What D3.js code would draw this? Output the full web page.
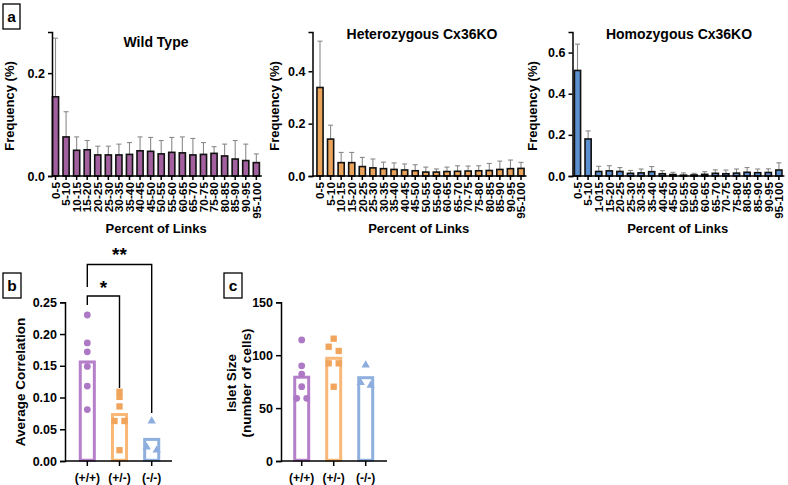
<!DOCTYPE html>
<html><head><meta charset="utf-8">
<script src="https://cdn.jsdelivr.net/npm/d3@7"></script>
<style>
body{margin:0;background:#fff;}
svg{display:block;font-family:"Liberation Sans",Arial,Helvetica,sans-serif;font-weight:bold;}
</style></head><body>
<svg id="c" width="788" height="485"></svg>
<script>
// ---------- DATA ----------
const bins = ["0-5","5-10","10-15","15-20","20-25","25-30","30-35","35-40","40-45","45-50","50-55","55-60","60-65","65-70","70-75","75-80","80-85","85-90","90-95","95-100"];
const binsHomo = ["0-5","5-10","1-015","15-20","20-25","25-30","30-35","35-40","40-45","45-50","50-55","55-60","60-65","65-70","70-75","75-80","80-85","85-90","90-95","95-100"];
const wtMean = [0.154,0.076,0.050,0.051,0.041,0.041,0.041,0.042,0.049,0.048,0.043,0.046,0.045,0.041,0.042,0.044,0.039,0.033,0.030,0.026];
const wtUpper = [0.268,0.125,0.076,0.069,0.058,0.058,0.062,0.065,0.076,0.075,0.069,0.075,0.076,0.073,0.065,0.057,0.062,0.069,0.062,0.043];
const hetMean = [0.338,0.141,0.051,0.051,0.036,0.031,0.028,0.025,0.023,0.020,0.015,0.015,0.017,0.018,0.019,0.020,0.021,0.025,0.028,0.029];
const hetUpper = [0.515,0.194,0.090,0.090,0.071,0.065,0.053,0.050,0.046,0.043,0.034,0.027,0.034,0.039,0.038,0.039,0.048,0.057,0.061,0.052];
const homMean = [0.513,0.180,0.022,0.025,0.022,0.013,0.015,0.021,0.011,0.007,0.004,0.005,0.008,0.013,0.011,0.014,0.018,0.016,0.017,0.029];
const homUpper = [0.641,0.219,0.047,0.050,0.041,0.027,0.034,0.046,0.026,0.018,0.015,0.013,0.021,0.030,0.029,0.034,0.041,0.034,0.035,0.064];
const wtTicks = [0, 0.2];
const hetTicks = [0, 0.2, 0.4];
const homTicks = [0, 0.2, 0.4, 0.6];

const groups = ["(+/+)","(+/-)","(-/-)"];
const corrWT = [0.230,0.186,0.172,0.149,0.118,0.081];
const corrHet = [0.109,0.101,0.086,0.063,0.063,0.017];
const corrHom = [0.063,0.017,0.022];
const corrTicks = [0,0.05,0.10,0.15,0.20,0.25];

const sizeWT = [114.4,90,82.2,70.2,59.2,59.2];
const sizeHet = [115.6,108,104,92.3,92.3,70.2];
const sizeHom = [90.7,71.5,74];
const sizeTicks = [0,50,100,150];

// ---------- DRAW ----------
const svg = d3.select("#c");
const FONT = '"Liberation Sans",Arial,Helvetica,sans-serif';

function panelLabel(x,y,w,h,t){
  svg.append("rect").attr("x",x).attr("y",y).attr("width",w).attr("height",h)
    .attr("fill","#fff").attr("stroke","#000").attr("stroke-width",1.3);
  svg.append("text").attr("x",x+w/2).attr("y",y+h/2+5.5).attr("text-anchor","middle")
    .attr("font-size",15.5).text(t);
}
panelLabel(3,4,17,25,"a");
panelLabel(3,273,18,25,"b");
panelLabel(224,273,18,25,"c");

function styleAxis(g){
  g.selectAll("path,line").attr("stroke","#000").attr("stroke-width",1.5);
  g.selectAll("text").attr("font-family",FONT).attr("font-weight","bold").attr("fill","#000");
}

function histPanel(o){
  const {axisX, firstC, step, top, yMax, cats, mean, upper, ticks, fill, title, titleX, titleY, ylabX} = o;
  const y0 = 176;
  const y = d3.scaleLinear().domain([0,yMax]).range([y0, top]);
  const x = d3.scaleBand().domain(cats).range([firstC-step/2, firstC-step/2+cats.length*step])
    .paddingInner(0.42).paddingOuter(0.21);
  const g = svg.append("g");
  cats.forEach((c,i)=>{
    const cx = x(c)+x.bandwidth()/2;
    g.append("line").attr("x1",cx).attr("x2",cx).attr("y1",y(mean[i])).attr("y2",y(upper[i]))
      .attr("stroke","#8a8a8a").attr("stroke-width",1.1);
    g.append("line").attr("x1",cx-2.5).attr("x2",cx+2.5).attr("y1",y(upper[i])).attr("y2",y(upper[i]))
      .attr("stroke","#8a8a8a").attr("stroke-width",1.1);
  });
  g.selectAll("rect.bar").data(cats).enter().append("rect")
    .attr("x",c=>x(c)).attr("width",x.bandwidth())
    .attr("y",(c,i)=>y(mean[i])).attr("height",(c,i)=>y0-y(mean[i]))
    .attr("fill",fill).attr("stroke","#111").attr("stroke-width",1.6);
  const ya = g.append("g").attr("transform",`translate(${axisX},0)`)
    .call(d3.axisLeft(y).tickValues(ticks).tickFormat(d3.format(".1f")).tickSizeOuter(0).tickSize(4).tickPadding(3));
  ya.selectAll("text").attr("font-size",12.5);
  styleAxis(ya);
  const xa = g.append("g").attr("transform",`translate(0,${y0})`)
    .call(d3.axisBottom(x).tickSize(4).tickSizeOuter(0));
  xa.select(".domain").remove();
  xa.selectAll("text").attr("font-size",11.8).attr("text-anchor","end")
    .attr("transform","rotate(-90)").attr("x",-6).attr("y",0).attr("dy","0.36em");
  styleAxis(xa);
  g.append("line").attr("x1",axisX).attr("x2",firstC+(cats.length-1)*step+5.5)
    .attr("y1",y0).attr("y2",y0).attr("stroke","#000").attr("stroke-width",1.5);
  g.append("text").attr("x",titleX).attr("y",titleY).attr("text-anchor","middle")
    .attr("font-size",14).text(title);
  const midX = (axisX + firstC+(cats.length-1)*step)/2 + 2;
  g.append("text").attr("x",midX).attr("y",233).attr("text-anchor","middle")
    .attr("font-size",13).text("Percent of Links");
  g.append("text").attr("transform",`translate(${ylabX},${(y0+top)/2+2}) rotate(-90)`)
    .attr("text-anchor","middle").attr("font-size",13).text("Frequency (%)");
}

histPanel({axisX:52, firstC:55.5, step:10.57, top:32, yMax:0.28, cats:bins, mean:wtMean, upper:wtUpper,
  ticks:wtTicks, fill:"#a2619e", title:"Wild Type", titleX:156, titleY:47, ylabX:14});
histPanel({axisX:312.5, firstC:320, step:10.58, top:32, yMax:0.55, cats:bins, mean:hetMean, upper:hetUpper,
  ticks:hetTicks, fill:"#eaa35b", title:"Heterozygous Cx36KO", titleX:422, titleY:39, ylabX:279});
histPanel({axisX:572.5, firstC:577.5, step:10.6, top:32, yMax:0.70, cats:binsHomo, mean:homMean, upper:homUpper,
  ticks:homTicks, fill:"#5c8fcf", title:"Homozygous Cx36KO", titleX:679, titleY:39, ylabX:537});

const lineCols = ["#b57fca","#f9b877","#8fb0de"];
const ptCols = ["#ad78c4","#f0a45c","#8cadde"];
const shapes = [d3.symbolCircle, d3.symbolSquare, d3.symbolTriangle];
const shapeSize = [36, 40, 30];

function dodge(vals, y, thr){
  const idx = vals.map((v,i)=>i).sort((a,b)=>vals[b]-vals[a]);
  const off = new Array(vals.length).fill(0);
  let cl = [idx[0]];
  const flush = ()=>{ const n=cl.length; cl.forEach((k,j)=>off[k]=(j-(n-1)/2)*10); };
  for(let j=1;j<idx.length;j++){
    if(Math.abs(y(vals[idx[j]])-y(vals[cl[cl.length-1]]))<thr) cl.push(idx[j]);
    else { flush(); cl=[idx[j]]; }
  }
  flush();
  return off;
}

function dotPanel(o){
  const {axisX, axisEnd, c0, step, y, sets, ticks, fmt} = o;
  const y0 = 461;
  const x = d3.scaleBand().domain(groups).range([c0-step/2, c0-step/2+3*step]).paddingInner(0.47).paddingOuter(0.235);
  const g = svg.append("g");
  groups.forEach((gname,i)=>{
    const m = d3.mean(sets[i]);
    g.append("rect").attr("x",x(gname)+1.5).attr("width",x.bandwidth()-3)
      .attr("y",y(m)).attr("height",y0-y(m)-0.75)
      .attr("fill","#fff").attr("stroke",lineCols[i]).attr("stroke-width",3);
    const cx = x(gname)+x.bandwidth()/2;
    const off = dodge(sets[i], y, 4.5);
    sets[i].forEach((v,k)=>{
      g.append("path").attr("d",d3.symbol().type(shapes[i]).size(shapeSize[i])())
        .attr("transform",`translate(${cx+off[k]},${y(v)})`).attr("fill",ptCols[i]);
    });
  });
  const ya = g.append("g").attr("transform",`translate(${axisX},0)`)
    .call(d3.axisLeft(y).tickValues(ticks).tickFormat(fmt).tickSizeOuter(0).tickSize(5).tickPadding(3));
  ya.selectAll("text").attr("font-size",12.5);
  styleAxis(ya);
  const xa = g.append("g").attr("transform",`translate(0,${y0})`)
    .call(d3.axisBottom(x).tickSize(5).tickSizeOuter(0).tickPadding(7));
  xa.select(".domain").remove();
  xa.selectAll("text").attr("font-size",12);
  styleAxis(xa);
  g.append("line").attr("x1",axisX).attr("x2",axisEnd).attr("y1",y0).attr("y2",y0)
    .attr("stroke","#000").attr("stroke-width",1.5);
  return x;
}

const yB = d3.scaleLinear().domain([0,0.25]).range([461,302.3]);
const xB = dotPanel({axisX:65, axisEnd:172, c0:87.3, step:32.2, y:yB, sets:[corrWT,corrHet,corrHom],
  ticks:corrTicks, fmt:d3.format(".2f")});
svg.append("text").attr("transform","translate(25,382) rotate(-90)").attr("text-anchor","middle")
  .attr("font-size",13.5).text("Average Correlation");

const cB = groups.map(g=>xB(g)+xB.bandwidth()/2);
const br = svg.append("g").attr("fill","none").attr("stroke","#000").attr("stroke-width",1.4);
br.append("path").attr("d",`M${cB[0]},305 V296 H${cB[1]} V388`);
br.append("path").attr("d",`M${cB[0]},287 V264.5 H${cB[2]} V413`);
svg.append("text").attr("x",(cB[0]+cB[1])/2).attr("y",294).attr("text-anchor","middle").attr("font-size",19).text("*");
svg.append("text").attr("x",(cB[0]+cB[2])/2).attr("y",261).attr("text-anchor","middle").attr("font-size",19).text("**");

const yC = d3.scaleLinear().domain([0,150]).range([461,302.3]);
dotPanel({axisX:281, axisEnd:387, c0:301.7, step:32, y:yC, sets:[sizeWT,sizeHet,sizeHom],
  ticks:sizeTicks, fmt:d3.format("d")});
svg.append("text").attr("transform","translate(236,383) rotate(-90)").attr("text-anchor","middle")
  .attr("font-size",13.5).text("Islet Size");
svg.append("text").attr("transform","translate(251,383) rotate(-90)").attr("text-anchor","middle")
  .attr("font-size",13.5).text("(number of cells)");
</script>
</body></html>
